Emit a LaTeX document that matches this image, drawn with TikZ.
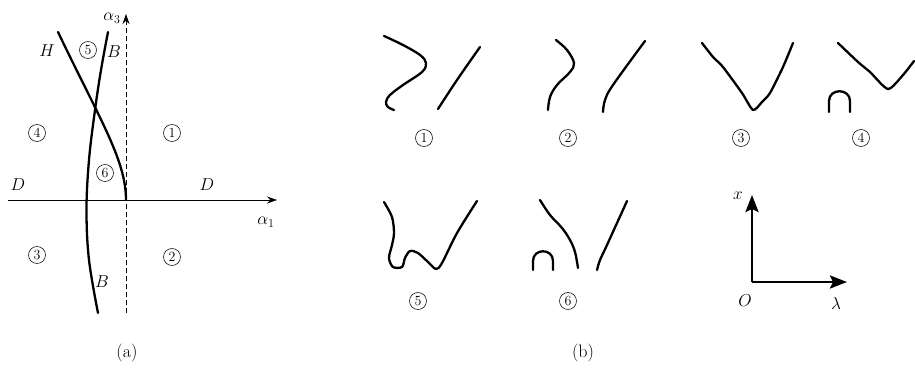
\documentclass[tikz,border=0pt]{standalone}
\usepackage{amsmath,amssymb}
\usepackage{tikz}
\usetikzlibrary{arrows.meta}

\begin{document}
\begin{tikzpicture}[x=1pt,y=-1pt,
    curve/.style={line width=2.3pt, line cap=round, line join=round},
    axis/.style={line width=0.9pt, -{Stealth[length=10pt,width=7pt]}},
    bigaxis/.style={line width=2.6pt, -{Stealth[length=17pt,width=13pt,inset=3pt]}},
    circnum/.style={circle, draw, line width=0.55pt, inner sep=0pt, minimum size=17pt, font=\fontsize{14}{14}\selectfont},
    lbl/.style={align=center, font=\fontsize{18}{18}\selectfont}]
\useasboundingbox (0,0) rectangle (915,369);
    \begin{scope}
% (a) parameter plane
\coordinate (xa) at (8,200);
\coordinate (xb) at (277,200);
\coordinate (ya) at (126,313);
\coordinate (yb) at (126,14);
\draw[axis] (xa) -- (xb);
\draw[axis, line width=0.8pt, dash pattern=on 5pt off 3pt] (ya) -- (yb);
\node[lbl] (alpha3) at (112,18) {$\alpha_3$};
\node[lbl] (alpha1) at (266,222) {$\alpha_1$};
\draw[curve] (58,32) .. controls (100,120) and (126,160) .. (126,200);
\draw[curve] plot[smooth, tension=0.6] coordinates {(108,32) (101,70) (95,110) (89,160) (86.5,210) (89,260) (98,313)};
\node[lbl] (labH) at (47,51) {$H$};
\node[lbl] (labB1) at (114,52) {$B$};
\node[lbl] (labB2) at (102,282) {$B$};
\node[lbl] (labD1) at (18,185) {$D$};
\node[lbl] (labD2) at (207,185) {$D$};
\node[circnum] (a1) at (172,133) {1};
\node[circnum] (a2) at (172,257) {2};
\node[circnum] (a3) at (37,255) {3};
\node[circnum] (a4) at (37,133) {4};
\node[circnum] (a5) at (88,50) {5};
\node[circnum] (a6) at (105,173) {6};
\node[lbl] (capa) at (127,353) {(a)};
    \end{scope}
    \begin{scope}
% (b) sketches
\draw[curve] plot[smooth, tension=0.6] coordinates {(384,36) (403,45) (420,55) (426,63) (422,72) (403,85) (390,95) (386,102) (388,107) (394,110)};
\draw[curve] plot[smooth, tension=0.6] coordinates {(438,109) (457,80) (480,47)};
\node[circnum] (b1) at (424,138) {1};
\draw[curve] plot[smooth, tension=0.6] coordinates {(556,40) (567,50) (574,63) (570,72) (557,85) (550,97) (548,110)};
\draw[curve] plot[smooth, tension=0.6] coordinates {(603,112) (605,100) (613,85) (645,41)};
\node[circnum] (b2) at (568,138) {2};
\draw[curve] plot[smooth, tension=0.4] coordinates {(702,43) (713,57) (723,67) (742,93) (753,110) (762,102) (770,93) (783,67) (793,43)};
\node[circnum] (b3) at (741,138) {3};
\draw[curve] (829,112) -- (829,101) .. controls (829,88) and (850,88) .. (850,101) -- (850,112);
\draw[curve] plot[smooth, tension=0.4] coordinates {(838,43) (858,62) (870,72) (888,89) (903,75) (914,61)};
\node[circnum] (b4) at (861,138) {4};
\draw[curve] plot[smooth, tension=0.5] coordinates {(384,202) (392,217) (394,233) (392,245) (389,258) (393,267) (402,267) (405,258) (410,251) (418,253) (428,262) (436,269) (442,263) (457,233) (477,201)};
\node[circnum] (b5) at (418,301) {5};
\draw[curve] (533,270) -- (533,261) .. controls (533,248) and (553,248) .. (553,261) -- (553,270);
\draw[curve] plot[smooth, tension=0.6] coordinates {(540,200) (550,215) (562,228) (570,240) (575,252) (578,268)};
\draw[curve] plot[smooth, tension=0.6] coordinates {(597,270) (600,260) (607,245) (627,201)};
\node[circnum] (b6) at (568,301) {6};
\coordinate (O) at (752,282);
\coordinate (xtip) at (752,195);
\coordinate (ltip) at (847,282);
\draw[bigaxis] (O) -- (xtip);
\draw[bigaxis] (O) -- (ltip);
\node[lbl] (labx) at (738,196) {$x$};
\node[lbl] (labO) at (745,301) {$O$};
\node[lbl] (lablam) at (836,303) {$\lambda$};
\node[lbl] (capb) at (583,353) {(b)};
    \end{scope}
\end{tikzpicture}
\end{document}
